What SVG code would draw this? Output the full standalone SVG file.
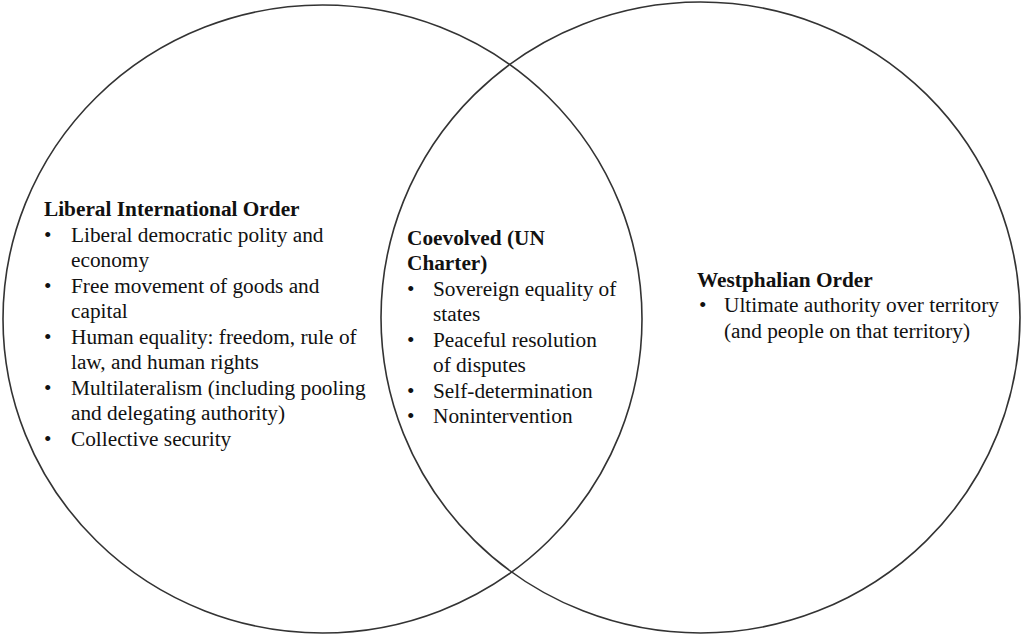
<svg xmlns="http://www.w3.org/2000/svg" width="1024" height="635" viewBox="0 0 1024 635">
<style>
.c{fill:none;stroke:#333;stroke-width:1.6}
text{font-family:"Liberation Serif","Times New Roman",serif;font-size:21.3px;fill:#111}
.h{font-weight:bold}
</style>
<rect width="1024" height="635" fill="#fff"/>
<g id="circles">
<ellipse id="liberal-circle" class="c" cx="322.5" cy="319" rx="319.5" ry="314"/>
<ellipse id="westphalian-circle" class="c" cx="700.5" cy="317.5" rx="319.5" ry="315.5"/>
</g>
<g id="liberal">
<text class="h" x="44" y="216">Liberal International Order</text>
<text x="44" y="242">•</text><text x="71" y="242">Liberal democratic polity and</text>
<text x="71" y="267">economy</text>
<text x="44" y="293">•</text><text x="71" y="293">Free movement of goods and</text>
<text x="71" y="318">capital</text>
<text x="44" y="344">•</text><text x="71" y="344">Human equality: freedom, rule of</text>
<text x="71" y="369">law, and human rights</text>
<text x="44" y="395">•</text><text x="71" y="395">Multilateralism (including pooling</text>
<text x="71" y="420">and delegating authority)</text>
<text x="44" y="446">•</text><text x="71" y="446">Collective security</text>
</g>
<g id="coevolved">
<text class="h" x="407" y="245">Coevolved (UN</text>
<text class="h" x="407" y="270">Charter)</text>
<text x="407" y="296">•</text><text x="433" y="296">Sovereign equality of</text>
<text x="433" y="321">states</text>
<text x="407" y="347">•</text><text x="433" y="347">Peaceful resolution</text>
<text x="433" y="372">of disputes</text>
<text x="407" y="398">•</text><text x="433" y="398">Self-determination</text>
<text x="407" y="423">•</text><text x="433" y="423">Nonintervention</text>
</g>
<g id="westphalian">
<text class="h" x="697" y="287">Westphalian Order</text>
<text x="699" y="312">•</text><text x="724" y="312">Ultimate authority over territory</text>
<text x="724" y="338">(and people on that territory)</text>
</g>
</svg>
